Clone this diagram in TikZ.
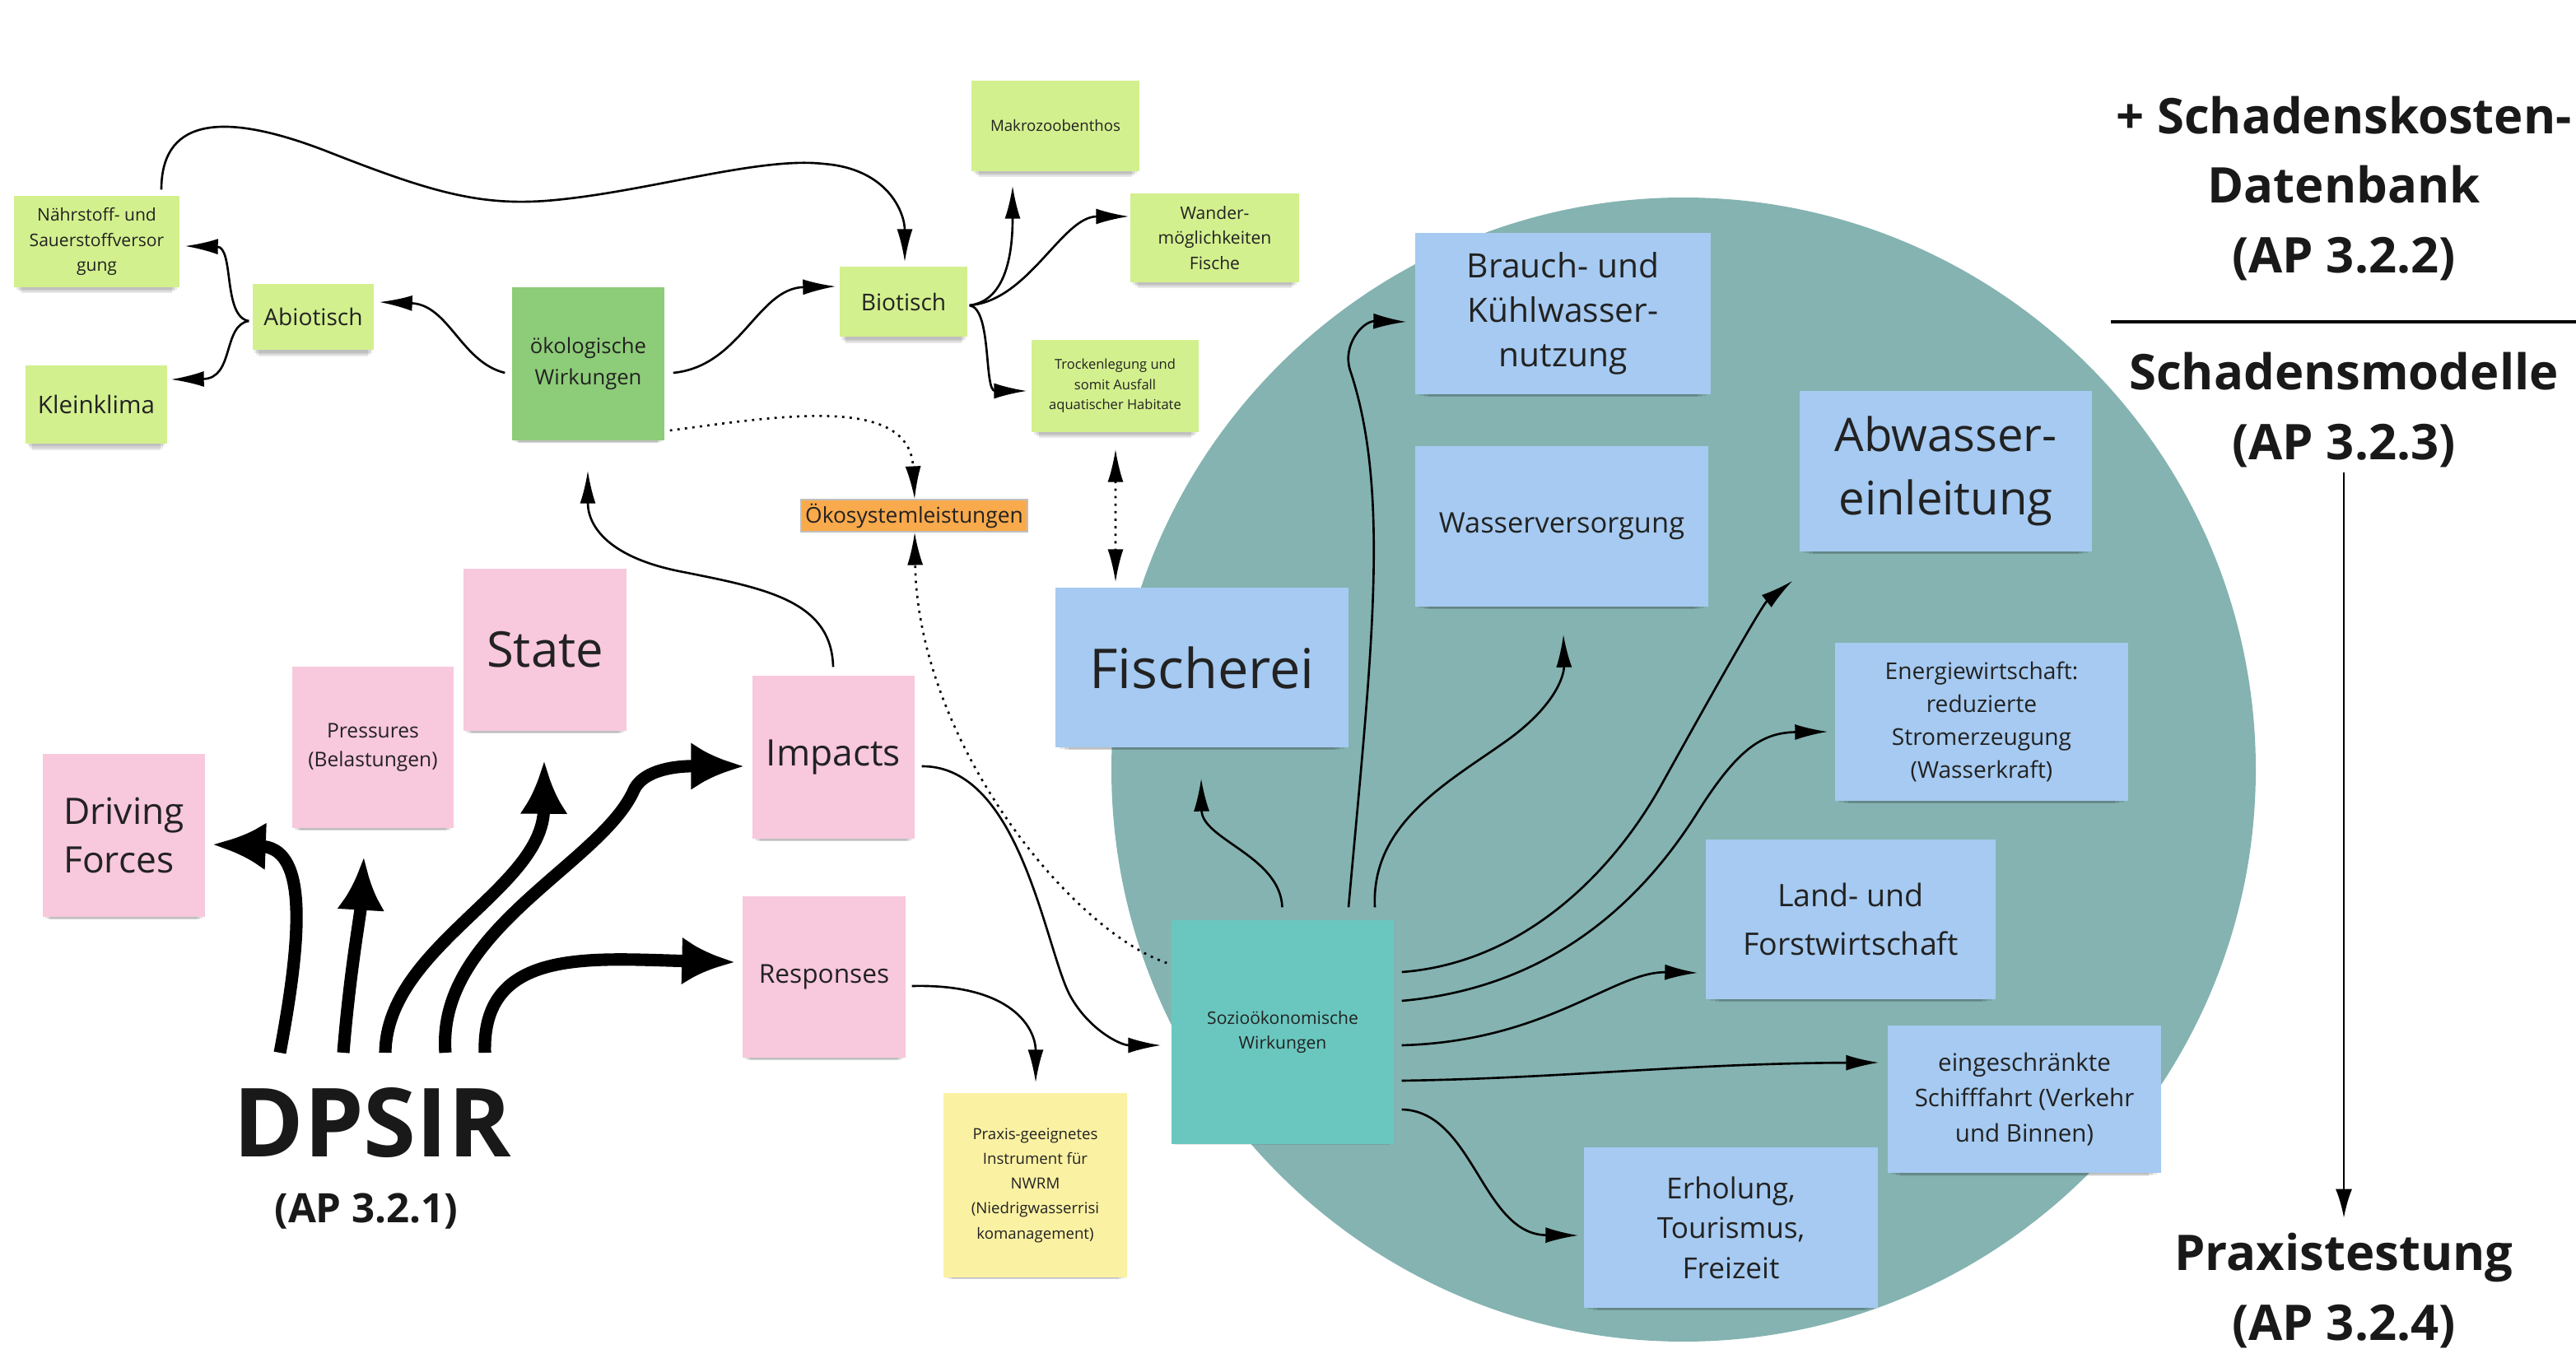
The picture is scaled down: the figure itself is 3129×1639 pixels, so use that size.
\documentclass[tikz,border=0pt]{standalone}
\usepackage{fontspec}
\setmainfont{Open Sans}
\usetikzlibrary{arrows.meta,shadows,calc}
\definecolor{lgreen}{HTML}{D3F08E}
\definecolor{dgreen}{HTML}{8DCC78}
\definecolor{pinkn}{HTML}{F8C8DC}
\definecolor{yelln}{HTML}{FAF1A3}
\definecolor{bluen}{HTML}{A6CAF1}
\definecolor{tealn}{HTML}{6AC7BF}
\definecolor{circ}{HTML}{84B3B1}
\definecolor{orn}{HTML}{F9AA4C}
\definecolor{txt}{HTML}{222222}
\newcommand{\myfs}[2]{\fontsize{#1}{#2}\selectfont}
\begin{document}
\begin{tikzpicture}[x=0.1mm,y=-0.1mm,
  plain/.style={inner sep=0pt, align=center, text=txt},
  note/.style={plain,
    general shadow={fill=black, opacity=0.09, shadow xshift=0pt, shadow yshift=-0.5mm, shadow scale=0.97},
    general shadow={fill=black, opacity=0.09, shadow xshift=0pt, shadow yshift=-0.9mm, shadow scale=0.94},
    general shadow={fill=black, opacity=0.09, shadow xshift=0pt, shadow yshift=-1.3mm, shadow scale=0.91}},
  sz/.style 2 args={minimum width=#1*0.1mm, minimum height=#2*0.1mm},
  conn/.style={line width=0.75pt, draw=black, -{Latex[length=4mm,width=1.9mm]}},
  dotconn/.style={conn, dash pattern=on 0.8pt off 1.8pt},
  dotboth/.style={line width=0.75pt, draw=black, dash pattern=on 0.8pt off 1.8pt, {Latex[length=4mm,width=1.9mm]}-{Latex[length=4mm,width=1.9mm]}},
  fat/.style={line width=4.3pt, draw=black, -{Latex[length=6.5mm,width=5.8mm]}},
  side/.style={line width=0.8pt, draw=black, -{Latex[length=3.5mm,width=2mm]}},
  big/.style={plain, font=\bfseries\myfs{17}{24}, text=black!90}
]
\useasboundingbox (0,0) rectangle (3129,1639);
\fill[white] (0,0) rectangle (3129,1639);

% big circle
\fill[circ] (2045,935) circle [radius=69.5mm];

% green notes
\node[note, fill=lgreen, sz={201}{111}, font=\myfs{6}{8.8}] (naehr) at (117.5,293.5) {Nährstoff- und\\Sauerstoffversor\\gung};
\node[note, fill=lgreen, sz={147}{80}, font=\myfs{8}{10}] (abiot) at (380.5,385) {Abiotisch};
\node[note, fill=lgreen, sz={172}{95}, font=\myfs{8.4}{10}] (klein) at (117,491.5) {Kleinklima};
\node[note, fill=dgreen, sz={185}{186}, font=\myfs{7.3}{10.9}] (oekol) at (714.5,442) {ökologische\\Wirkungen};
\node[note, fill=lgreen, sz={155}{85}, font=\myfs{8}{10}] (biot) at (1097.5,366.5) {Biotisch};
\node[note, fill=lgreen, sz={204}{110}, font=\myfs{5.3}{7}] (makro) at (1282,153) {Makrozoobenthos};
\node[note, fill=lgreen, sz={205}{108}, font=\myfs{6}{8.7}] (wander) at (1475.5,289) {Wander-\\möglichkeiten\\Fische};
\node[note, fill=lgreen, sz={203}{112}, font=\myfs{4.7}{7}] (trock) at (1354.5,469) {Trockenlegung und\\somit Ausfall\\aquatischer Habitate};
\node[plain, fill=orn, draw=black!25, line width=0.3pt, sz={275}{39}, font=\myfs{7.5}{9}] (oeko) at (1110.5,626.5) {Ökosystemleistungen};

% pink notes
\node[note, fill=pinkn, sz={197}{198}, font=\myfs{12.6}{17}, align=left] (driving) at (150.5,1015) {Driving\\Forces};
\node[note, fill=pinkn, sz={196}{196}, font=\myfs{7}{10}] (press) at (453,908) {Pressures\\(Belastungen)};
\node[note, fill=pinkn, sz={198}{197}, font=\myfs{17}{20}] (state) at (662,789.5) {State};
\node[note, fill=pinkn, sz={197}{198}, font=\myfs{12.6}{15}] (impacts) at (1012.5,920) {Impacts};
\node[note, fill=pinkn, sz={198}{196}, font=\myfs{9}{11}] (resp) at (1001,1187) {Responses};
\node[note, fill=yelln, sz={223}{224}, font=\myfs{5.3}{8.6}] (praxis) at (1257.5,1440) {Praxis-geeignetes\\Instrument für\\NWRM\\(Niedrigwasserrisi\\komanagement)};

% DPSIR
\node[plain, anchor=base, font=\bfseries\myfs{33}{36}, text=black!90] (dpsir) at (452,1405) {DPSIR};
\node[plain, anchor=base, font=\bfseries\myfs{14}{16}, text=black!90] (ap1) at (445,1485) {(AP 3.2.1)};

% blue notes
\node[note, fill=bluen, sz={359}{196}, font=\myfs{11.6}{15.3}] (brauch) at (1898.5,381) {Brauch- und\\Kühlwasser-\\nutzung};
\node[note, fill=bluen, sz={356}{195}, font=\myfs{9.8}{12}] (wasser) at (1897,639.5) {Wasserversorgung};
\node[note, fill=bluen, sz={355}{195}, font=\myfs{16}{22}] (abw) at (2363.5,572.5) {Abwasser-\\einleitung};
\node[note, fill=bluen, sz={356}{194}, font=\myfs{19}{22}] (fisch) at (1460,811) {Fischerei};
\node[note, fill=bluen, sz={356}{192}, font=\myfs{8}{11.4}] (energ) at (2407,877) {Energiewirtschaft:\\reduzierte\\Stromerzeugung\\(Wasserkraft)};
\node[note, fill=bluen, sz={352}{194}, font=\myfs{10.7}{17}] (land) at (2248,1117) {Land- und\\Forstwirtschaft};
\node[note, fill=bluen, sz={332}{179}, font=\myfs{8.4}{12.2}] (schiff) at (2459,1335.5) {eingeschränkte\\Schifffahrt (Verkehr\\und Binnen)};
\node[note, fill=bluen, sz={357}{195}, font=\myfs{10}{13.8}] (erhol) at (2102.5,1491.5) {Erholung,\\Tourismus,\\Freizeit};
\node[note, fill=tealn, sz={270}{272}, font=\myfs{6}{8.7}] (sozio) at (1558,1254) {Sozioökonomische\\Wirkungen};

% right side texts
\node[big] (sdb) at (2847,229) {+ Schadenskosten-\\Datenbank\\(AP 3.2.2)};
\draw[line width=0.9pt] (2564,391) -- (3129,391);
\node[big] (smod) at (2847,498) {Schadensmodelle\\(AP 3.2.3)};
\node[big] (ptest) at (2847,1568) {Praxistestung\\(AP 3.2.4)};
\draw[side] ($(smod.south)+(0,6)$) -- ($(ptest.north)+(0,-18)$);

% thick DPSIR arrows
\draw[fat] ($(dpsir.base)+(-112,-126)$) .. controls (370,1120) and (370,1030) .. ($(driving.east)+(8,11)$);
\draw[fat] ($(dpsir.base)+(-35,-126)$) .. controls (425,1180) and (438,1110) .. ($(press.south)+(-11,34)$);
\draw[fat] ($(dpsir.base)+(16,-126)$) .. controls (470,1150) and (660,1080) .. ($(state.south)+(-1,35)$);
\draw[fat] ($(dpsir.base)+(89,-126)$) .. controls (530,1130) and (730,1050) .. (770,960) .. controls (785,927) and (850,931) .. ($(impacts.west)+(-9,11)$);
\draw[fat] ($(dpsir.base)+(137,-126)$) .. controls (585,1150) and (720,1165) .. ($(resp.west)+(-8,-18)$);

% ecological connectors
\draw[conn] ($(naehr.north)+(78.5,-7)$) .. controls (196,150) and (260,130) .. (400,185) .. controls (520,232) and (580,250) .. (663,244) .. controls (780,235) and (920,190) .. (1000,199) .. controls (1080,205) and (1099,260) .. ($(biot.north)+(1.5,-5)$);
\draw[conn] ($(oekol.west)+(-8,11)$) .. controls (560,440) and (545,370) .. ($(abiot.east)+(6,-18)$);
\draw[conn] ($(abiot.west)+(-4,5)$) .. controls (270,385) and (285,300) .. ($(naehr.east)+(6,5.5)$);
\draw[conn] ($(abiot.west)+(-4,5)$) .. controls (270,395) and (285,460) .. ($(klein.east)+(4,-30.5)$);
\draw[conn] ($(oekol.east)+(10,11)$) .. controls (900,445) and (920,350) .. ($(biot.west)+(-4,-18.5)$);
\draw[conn] ($(biot.east)+(2,4.5)$) .. controls (1225,365) and (1230,300) .. ($(makro.south)+(-52,17)$);
\draw[conn] ($(biot.east)+(2,4.5)$) .. controls (1250,365) and (1290,263) .. ($(wander.west)+(-1,-26)$);
\draw[conn] ($(biot.east)+(2,4.5)$) .. controls (1205,375) and (1195,475) .. ($(trock.west)+(-5,6)$);
\draw[dotconn] ($(oekol.east)+(6,81)$) .. controls (950,505) and (1105,480) .. ($(oeko.north)+(0.5,0)$);
\draw[dotconn] ($(sozio.west)+(-5,-84)$) .. controls (1300,1130) and (1115,900) .. ($(oeko.south)+(0.5,0)$);
\draw[dotboth] ($(trock.south)+(0.5,20)$) -- ($(fisch.north)+(-105,-6)$);

% DPSIR thin connectors
\draw[conn] ($(impacts.north)+(-0.5,-10)$) .. controls (1010,730) and (930,715) .. (830,695) .. controls (740,678) and (714,640) .. ($(oekol.south)+(-0.5,36)$);
\draw[conn] ($(impacts.east)+(8,11)$) .. controls (1240,930) and (1270,1155) .. (1300,1210) .. controls (1322,1250) and (1360,1270) .. ($(sozio.west)+(-12,16)$);
\draw[conn] ($(resp.east)+(7,11)$) .. controls (1230,1195) and (1258,1250) .. ($(praxis.north)+(0.5,-12)$);

% socio-economic connectors
\draw[conn] ($(sozio.north)+(-0.5,-15)$) .. controls (1555,1040) and (1460,1020) .. ($(fisch.south)+(-1,37)$);
\draw[conn] ($(sozio.north)+(80,-15)$) .. controls (1665,800) and (1690,600) .. (1640,450) .. controls (1630,420) and (1655,390) .. ($(brauch.west)+(-10,10)$);
\draw[conn] ($(sozio.north)+(112,-15)$) .. controls (1665,1000) and (1760,950) .. (1830,900) .. controls (1890,857) and (1900,820) .. ($(wasser.south)+(2,33)$);
\draw[conn] ($(sozio.east)+(9,-73)$) .. controls (1850,1170) and (1960,1060) .. (2020,950) .. controls (2070,860) and (2140,735) .. ($(abw.south west)+(-8,35)$);
\draw[conn] ($(sozio.east)+(9,-38)$) .. controls (1880,1200) and (1990,1100) .. (2060,990) .. controls (2110,910) and (2140,890) .. ($(energ.west)+(-8,12)$);
\draw[conn] ($(sozio.east)+(9,16)$) .. controls (1880,1265) and (1960,1180) .. ($(land.west)+(-9,65)$);
\draw[conn] ($(sozio.east)+(9,59)$) .. controls (1900,1310) and (2050,1292) .. ($(schiff.west)+(-10,-44.5)$);
\draw[conn] ($(sozio.east)+(9,94)$) .. controls (1790,1350) and (1800,1500) .. ($(erhol.west)+(-6,9.5)$);
\end{tikzpicture}
\end{document}
